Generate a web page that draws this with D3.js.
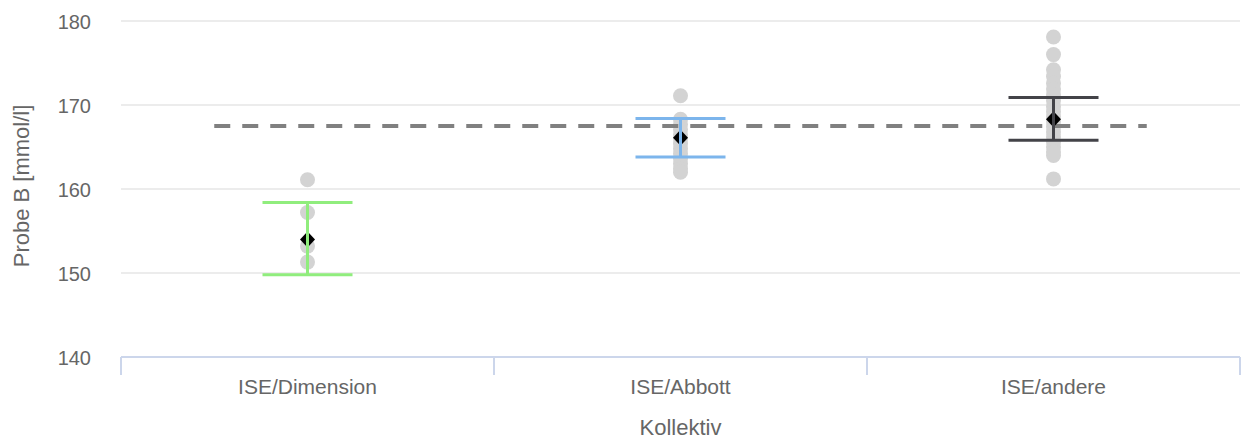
<!DOCTYPE html>
<html><head><meta charset="utf-8">
<script src="https://cdn.jsdelivr.net/npm/d3@7"></script>
<style>body{margin:0;background:#fff}svg{display:block;font-family:"Liberation Sans",Arial,sans-serif}</style>
</head><body><svg id="c" width="1241" height="440"></svg>
<script>
const categories = ["ISE/Dimension", "ISE/Abbott", "ISE/andere"];
const yTicks = [140, 150, 160, 170, 180];
const pointsDimension = [161.1, 157.2, 153.2, 151.3];
const pointsAbbott = [171.1, 168.3, 167.7, 167.1, 166.5, 166.0, 165.4, 164.8, 164.2, 163.6, 163.0, 162.4, 162.0];
const pointsAndere = [178.1, 176.0, 174.2, 173.4, 172.6, 171.9, 171.2, 170.5, 169.8, 169.2, 168.6, 168.0, 167.4, 166.8, 166.2, 165.6, 165.0, 164.4, 164.0, 161.2];
const means = [154.0, 166.1, 168.3];
const errLow = [149.8, 163.8, 165.8];
const errHigh = [158.4, 168.4, 170.9];
const reference = 167.5;
const refRange = [-0.25, 2.25];
const colors = ["#90ed7d", "#7cb5ec", "#434348"];

(function () {
const svg = d3.select("#c");
const pL = 121, pR = 1240, pT = 21, pB = 357;
const x = d3.scaleBand().domain(categories).range([pL, pR]);
const xi = d3.scaleLinear().domain([-0.5, 2.5]).range([pL, pR]);
const y = d3.scaleLinear().domain([140, 180]).range([pB, pT]);

// grid
svg.append("g").selectAll("line").data(yTicks.filter(d => d > 140)).join("line")
  .attr("x1", pL).attr("x2", pR).attr("y1", d => y(d)).attr("y2", d => y(d))
  .attr("stroke", "#e6e6e6").attr("stroke-width", 1.5);

// y labels
svg.append("g").selectAll("text").data(yTicks).join("text")
  .attr("x", 91).attr("y", d => y(d) + 8).attr("text-anchor", "end")
  .attr("font-size", 20).attr("fill", "#666").text(d => d);

// x axis
const xa = svg.append("g").attr("transform", `translate(0,${pB})`)
  .call(d3.axisBottom(x).tickSize(0).tickPadding(22));
xa.select(".domain").attr("stroke", "#ccd6eb").attr("stroke-width", 2).attr("d", `M${pL},0H${pR}`);
xa.selectAll("text").attr("font-size", 21).attr("fill", "#666").attr("font-family", "Liberation Sans, Arial, sans-serif");
svg.append("g").selectAll("line").data([0, 1, 2, 3]).join("line")
  .attr("x1", d => xi(d - 0.5)).attr("x2", d => xi(d - 0.5))
  .attr("y1", pB).attr("y2", pB + 18)
  .attr("stroke", "#ccd6eb").attr("stroke-width", 2);

// titles
svg.append("text").attr("x", (pL + pR) / 2).attr("y", 435).attr("text-anchor", "middle")
  .attr("font-size", 22).attr("fill", "#666").text("Kollektiv");
svg.append("text").attr("transform", `translate(29,186) rotate(-90)`)
  .attr("text-anchor", "middle").attr("font-size", 22).attr("fill", "#666").text("Probe B [mmol/l]");

// points
const allPoints = [pointsDimension, pointsAbbott, pointsAndere];
allPoints.forEach((arr, i) => {
  svg.append("g").selectAll("circle").data(arr).join("circle")
    .attr("cx", x(categories[i]) + x.bandwidth() / 2).attr("cy", d => y(d))
    .attr("r", 7.5).attr("fill", "#d3d3d3");
});

// reference dashed line
svg.append("line").attr("x1", xi(refRange[0])).attr("x2", xi(refRange[1]))
  .attr("y1", y(reference)).attr("y2", y(reference))
  .attr("stroke", "#808080").attr("stroke-width", 4).attr("stroke-dasharray", "16,12");

// means (diamonds)
svg.append("g").selectAll("path").data(means).join("path")
  .attr("transform", (d, i) => `translate(${x(categories[i]) + x.bandwidth() / 2},${y(d)})`)
  .attr("d", "M0,-8L7.5,0L0,8L-7.5,0Z").attr("fill", "#000");

// error bars
const eb = svg.append("g");
categories.forEach((c, i) => {
  const cx = x(c) + x.bandwidth() / 2;
  const g = eb.append("g").attr("stroke", colors[i]).attr("stroke-width", 3);
  g.append("line").attr("x1", cx).attr("x2", cx).attr("y1", y(errLow[i])).attr("y2", y(errHigh[i]));
  g.append("line").attr("x1", cx - 45).attr("x2", cx + 45).attr("y1", y(errLow[i])).attr("y2", y(errLow[i]));
  g.append("line").attr("x1", cx - 45).attr("x2", cx + 45).attr("y1", y(errHigh[i])).attr("y2", y(errHigh[i]));
});
})();
</script></body></html>
